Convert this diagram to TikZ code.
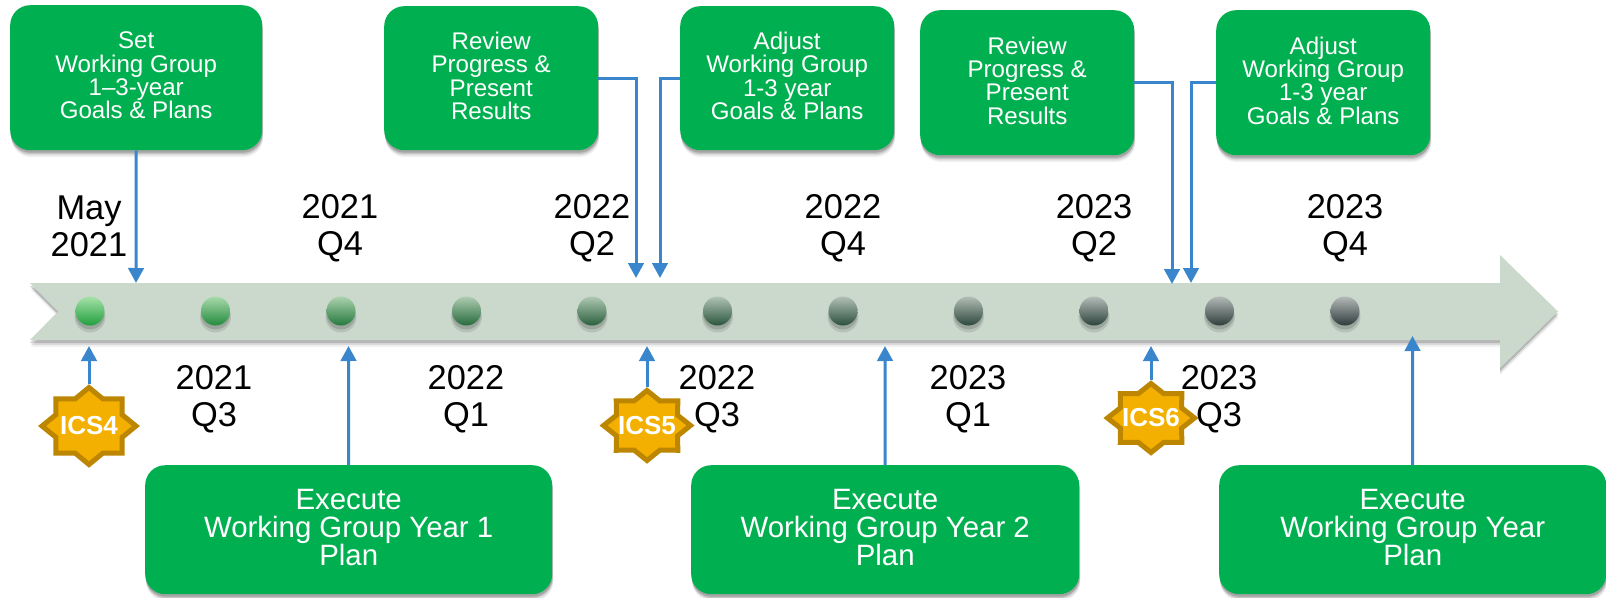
\documentclass[tikz,border=0pt]{standalone}
\usepackage{fontspec}
\setmainfont{Liberation Sans}
\usetikzlibrary{arrows.meta,shadows,calc}
\definecolor{boxgreen}{HTML}{00B050}
\definecolor{linkblue}{HTML}{3A86CC}
\definecolor{band}{HTML}{CBD9CC}
\definecolor{starfill}{HTML}{F4B000}
\definecolor{starline}{HTML}{BC8600}
\definecolor{dottopA}{HTML}{A6E2A8}
\definecolor{dotbotA}{HTML}{1FA03E}
\definecolor{dottopB}{HTML}{B4B8B8}
\definecolor{dotbotB}{HTML}{2E3C3C}
\tikzset{
  softshadow/.style={
    general shadow={shadow xshift=1pt,shadow yshift=-7pt,fill=black,opacity=.05},
    general shadow={shadow xshift=1pt,shadow yshift=-5.5pt,fill=black,opacity=.08},
    general shadow={shadow xshift=.5pt,shadow yshift=-4pt,fill=black,opacity=.12},
    general shadow={shadow xshift=.5pt,shadow yshift=-2.5pt,fill=black,opacity=.16}},
  greenbox/.style={softshadow,fill=boxgreen,text=white,rounded corners=20pt,inner sep=0pt,align=center,anchor=north west},
  smallbox/.style={greenbox,font=\fontsize{24.1}{23.3}\selectfont},
  wide/.style={greenbox,font=\fontsize{29.4}{28}\selectfont},
  datelabel/.style={align=center,inner sep=0pt,font=\fontsize{34.4}{37}\selectfont},
  link/.style={draw=linkblue,line width=3pt,-{Triangle[length=15pt,width=15.5pt]}},
  starborder/.style={fill=starfill,draw=starline,line width=5pt,miter limit=10},
  startext/.style={inner sep=0pt,text=white,font=\fontsize{26}{26}\selectfont\bfseries},
}
\newcommand{\smalllift}{\\[-18.6pt]}
\newcommand{\widelift}{\\[-22.6pt]}
% name, cx, cy, half width, half height, text
\newcommand{\icsstar}[6]{%
  \draw[starborder] plot[samples at={0,22.5,...,337.5}]
    ({#2+(#4-4)*(mod(round(\x/22.5),2)==0?1:0.764)*cos(\x)},{#3+(#5-3.5)*(mod(round(\x/22.5),2)==0?1:0.764)*sin(\x)}) -- cycle;
  \node[startext,minimum width=2*#4*1pt,minimum height=2*#5*1pt] (#1) at (#2,#3) {#6};}
\begin{document}
\begin{tikzpicture}[x=1pt,y=-1pt]
\useasboundingbox (0,0) rectangle (1606,597);
% timeline band
\fill[black,opacity=.05] (31,290) -- (1500,290) -- (1500,262) -- (1558,318) -- (1500,375) -- (1500,347) -- (31,347) -- (59,318) -- cycle;
\fill[black,opacity=.10] (31,288) -- (1500,288) -- (1500,260) -- (1558,316) -- (1500,373) -- (1500,345) -- (31,345) -- (59,316) -- cycle;
\fill[black,opacity=.16] (30,286) -- (1500,286) -- (1500,258) -- (1558,314) -- (1500,371) -- (1500,343) -- (30,343) -- (58,314) -- cycle;
\fill[band] (30,283) -- (1500,283) -- (1500,255) -- (1558,311.5) -- (1500,368) -- (1500,340) -- (30,340) -- (58,311.5) -- cycle;
% dots
\foreach \i in {0,...,10}{
  \pgfmathtruncatemacro{\pp}{100*(exp(-0.2*\i)-0.135)/0.865}
  \pgfmathsetmacro{\cx}{90+125.5*\i}
  \fill[black,opacity=.10] (\cx,317) circle (15.5pt);
  \fill[black,opacity=.15] (\cx,315) circle (14.5pt);
  \shade[top color=dottopA!\pp!dottopB,bottom color=dotbotA!\pp!dotbotB] (\cx,311) circle (14.5pt);
}
% date labels
\node[datelabel] (d1) at (89,226) {May\\2021};
\node[datelabel] (d2) at (340,228) {2021\\Q4};
\node[datelabel] (d3) at (592,228) {2022\\Q2};
\node[datelabel] (d4) at (843,228) {2022\\Q4};
\node[datelabel] (d5) at (1094,228) {2023\\Q2};
\node[datelabel] (d6) at (1345,228) {2023\\Q4};
\node[datelabel] (u1) at (214,399) {2021\\Q3};
\node[datelabel] (u2) at (466,399) {2022\\Q1};
\node[datelabel] (u3) at (717,399) {2022\\Q3};
\node[datelabel] (u4) at (968,399) {2023\\Q1};
\node[datelabel] (u5) at (1219,399) {2023\\Q3};
% top boxes
\node[smallbox,minimum width=252pt,minimum height=145pt] (A) at (10,5) {Set\\Working Group\\1--3-year\\Goals \& Plans\smalllift};
\node[smallbox,minimum width=214pt,minimum height=144pt] (B) at (384,6) {Review\\Progress \&\\Present\\Results\smalllift};
\node[smallbox,minimum width=214pt,minimum height=144pt] (C) at (680,6) {Adjust\\Working Group\\1-3 year\\Goals \& Plans\smalllift};
\node[smallbox,minimum width=214pt,minimum height=145pt] (D) at (920,10) {Review\\Progress \&\\Present\\Results\smalllift};
\node[smallbox,minimum width=214pt,minimum height=145pt] (E) at (1216,10) {Adjust\\Working Group\\1-3 year\\Goals \& Plans\smalllift};
% bottom boxes
\node[wide,minimum width=407pt,minimum height=129pt] (F) at (145,465) {Execute\\Working Group Year 1\\Plan\widelift};
\node[wide,minimum width=388pt,minimum height=129pt] (G) at (691,465) {Execute\\Working Group Year 2\\Plan\widelift};
\node[wide,minimum width=387pt,minimum height=129pt] (H) at (1219,465) {Execute\\Working Group Year\\Plan\widelift};
% stars
\icsstar{s4}{89}{426}{51}{42}{ICS4}
\icsstar{s5}{647}{425.5}{47.5}{38.5}{ICS5}
\icsstar{s6}{1151}{418}{47.5}{38}{ICS6}
% arrow ends
\coordinate (ta) at (136,283);
\coordinate (tb) at (636,278);
\coordinate (tc) at (660,278);
\coordinate (td) at (1172,284);
\coordinate (te) at (1191,283);
\coordinate (tf) at (348.5,346);
\coordinate (tg) at (885,346);
\coordinate (th) at (1412.5,336);
\coordinate (t4) at (89,346);
\coordinate (t5) at (647,346);
\coordinate (t6) at (1151,346);
% connectors
\draw[link] (A.south) -- (ta);
\draw[link] (B.east) -| (tb);
\draw[link] (C.west) -| (tc);
\draw[link] (D.east) -| (td);
\draw[link] (E.west) -| (te);
\draw[link] (F.north) -- (tf);
\draw[link] (G.north) -- (tg);
\draw[link] (H.north) -- (th);
\draw[link] (s4.north) -- (t4);
\draw[link] (s5.north) -- (t5);
\draw[link] (s6.north) -- (t6);
\end{tikzpicture}
\end{document}
